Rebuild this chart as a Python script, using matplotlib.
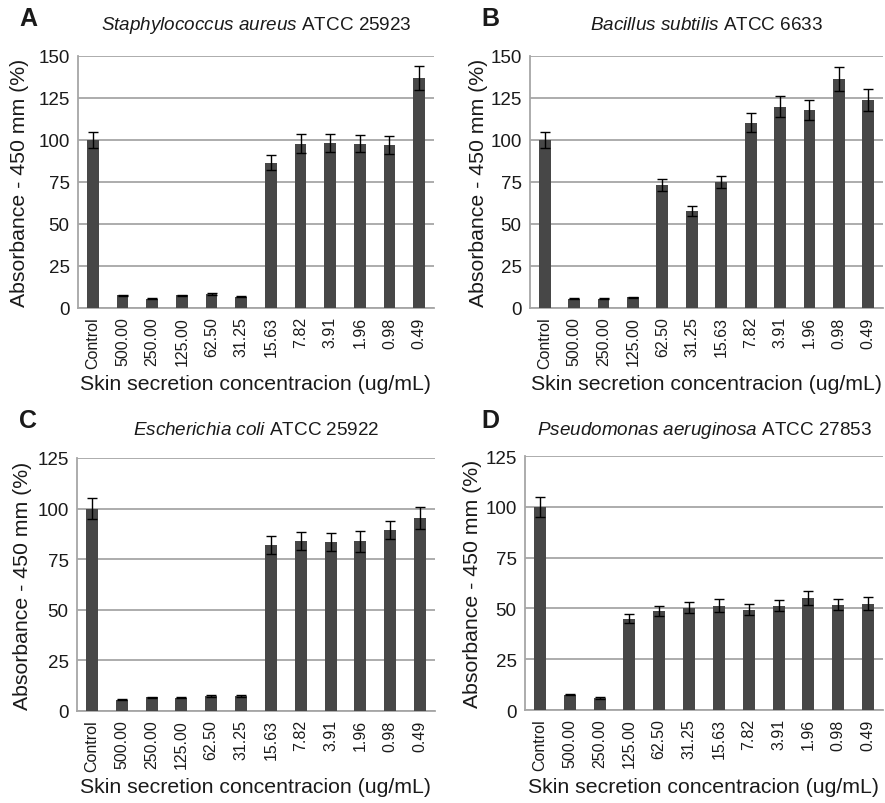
import matplotlib
matplotlib.use("Agg")
import matplotlib.pyplot as plt
import numpy as np

plt.rcParams['font.family'] = ['Liberation Sans', 'DejaVu Sans']
plt.rcParams['mathtext.fontset'] = 'custom'
plt.rcParams['mathtext.rm'] = 'Liberation Sans'
plt.rcParams['mathtext.it'] = 'Liberation Sans:italic'

# concentration labels, same for all panels
conc = ["Control", "500.00", "250.00", "125.00", "62.50", "31.25",
        "15.63", "7.82", "3.91", "1.96", "0.98", "0.49"]

# values (mean, error)
s_aureus = [100, 7.5, 5.5, 7.5, 8.3, 6.7, 86.6, 97.9, 98.3, 97.9, 97.1, 136.7]
s_aureus_err = [5, 0.4, 0.4, 0.4, 0.4, 0.4, 4.7, 5.7, 5.3, 5.2, 5.3, 7.1]
b_subtilis = [100, 5.5, 5.5, 6.3, 73.1, 57.5, 75.1, 110.2, 119.9, 117.9, 136.1, 123.6]
b_subtilis_err = [5, 0.4, 0.4, 0.4, 3.6, 3.0, 3.6, 5.7, 6.3, 6.0, 7.1, 6.5]
e_coli = [100, 5.6, 6.7, 6.6, 7.4, 7.4, 81.9, 83.8, 83.3, 83.8, 89.3, 95.4]
e_coli_err = [5, 0.4, 0.4, 0.4, 0.4, 0.4, 4.4, 4.4, 4.4, 5.1, 4.4, 5.4]
p_aeruginosa = [100, 7.6, 5.9, 45.0, 48.9, 50.3, 51.4, 49.4, 51.4, 55.2, 51.9, 52.4]
p_aeruginosa_err = [4.8, 0.4, 0.4, 2.1, 2.5, 2.8, 3.1, 2.6, 2.6, 3.3, 2.8, 3.0]

W, H = 885, 804
fig = plt.figure(figsize=(W / 100, H / 100), dpi=100)

txt = '#1a1a1a'
grid = '#a6a6a6'
barc = '#474747'

panels = [
    # letter, italic name, strain, vals, errs, ymax,
    # box (l, r, top, bottom px), title y, letter xy, xlabel y, ylabel x
    ("A", "Staphylococcus\\ aureus", "ATCC 25923", s_aureus, s_aureus_err, 150,
     (78, 434, 57, 309), 25, (28, 19), 385, 20),
    ("B", "Bacillus\\ subtilis", "ATCC 6633", b_subtilis, b_subtilis_err, 150,
     (530, 883, 57, 309), 25, (490, 19), 385, 478),
    ("C", "Escherichia\\ coli", "ATCC 25922", e_coli, e_coli_err, 125,
     (77, 435, 459, 712), 431, (28, 421), 788, 23),
    ("D", "Pseudomonas\\ aeruginosa", "ATCC 27853", p_aeruginosa, p_aeruginosa_err, 125,
     (525, 883, 457, 711), 431, (490, 421), 788, 472),
]

for letter, name, strain, vals, errs, ymax, box, ty, lxy, xly, ylx in panels:
    l, r, t, b = box
    ax = fig.add_axes([l / W, 1 - b / H, (r - l) / W, (b - t) / H])
    x = np.arange(len(conc))
    ax.bar(x, vals, width=0.4, color=barc, zorder=3)
    ax.errorbar(x, vals, yerr=errs, fmt='none', ecolor='black',
                elinewidth=1, capsize=3.5, capthick=1, zorder=4)
    ax.set_xlim(-0.5, len(conc) - 0.5)
    ax.set_ylim(0, ymax)
    ax.set_yticks(np.arange(0, ymax + 1, 25))
    ax.yaxis.grid(True, color=grid, lw=1.3, zorder=0)
    ax.set_axisbelow(True)
    for s in ['top', 'right']:
        ax.spines[s].set_visible(False)
    for s in ['left', 'bottom']:
        ax.spines[s].set_color(grid)
        ax.spines[s].set_linewidth(1.3)
    ax.tick_params(length=0, pad=6, colors=txt, labelsize=13.5)
    ax.tick_params(axis='x', labelsize=11.5)
    ax.set_xticks(x)
    ax.set_xticklabels(conc, rotation=90)
    fig.text(ylx / W, 1 - (t + b) / 2 / H, "Absorbance - 450 mm (%)", rotation=90,
             ha='center', va='center', fontsize=15.3, color=txt)
    fig.text((l + r) / 2 / W, 1 - xly / H, "Skin secretion concentracion (ug/mL)",
             ha='center', va='center', fontsize=15.3, color=txt)
    fig.text((l + r) / 2 / W, 1 - ty / H, "$\\it{" + name + "}$ " + strain,
             ha='center', va='center', fontsize=13.6, color=txt)
    fig.text(lxy[0] / W, 1 - lxy[1] / H, letter, ha='center', va='center',
             fontsize=18, fontweight='bold', color=txt)

fig.savefig("out.png", dpi=100)
